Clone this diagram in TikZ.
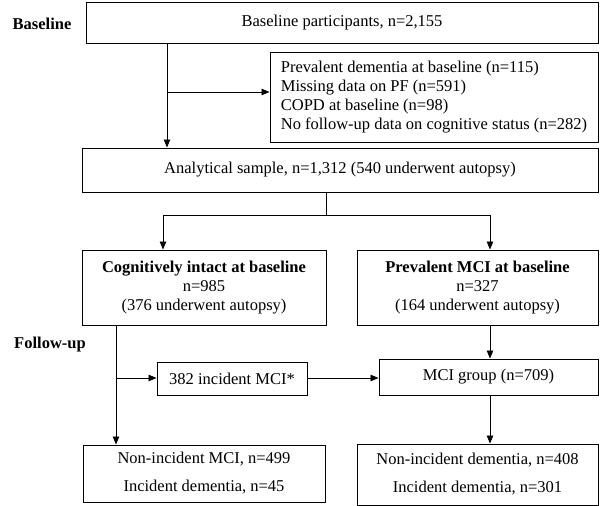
\documentclass[tikz,border=0pt]{standalone}
\usepackage{fontspec}
\setmainfont{Liberation Serif}
\usetikzlibrary{arrows.meta}
\begin{document}
\begin{tikzpicture}[x=1pt,y=-1pt,
  box/.style={draw,line width=1pt,inner sep=0pt,align=center,font=\fontsize{16.5}{19}\selectfont},
  lbl/.style={font=\fontsize{16.5}{19}\selectfont\bfseries},
  arr/.style={line width=0.9pt,-{Triangle[length=8pt,width=6.5pt]}},
  ln/.style={line width=0.9pt}]
\useasboundingbox (0,0) rectangle (600,506);
\node[lbl] (lb) at (42,24) {Baseline};
\node[lbl] (lf) at (50,345) {Follow-up};
\node[box,minimum width=512pt,minimum height=41pt] (b1) at (342,22.5) {Baseline participants, n=2,155};
\node[box,minimum width=328pt,minimum height=90pt,align=left] (ex) at (434,97) {Prevalent dementia at baseline (n=115)\\Missing data on PF (n=591)\\COPD at baseline (n=98)\\No follow-up data on cognitive status (n=282)};
\node[box,minimum width=516pt,minimum height=44pt] (an) at (340,170) {Analytical sample, n=1,312 (540 underwent autopsy)};
\node[box,minimum width=244pt,minimum height=75pt] (ci) at (204,287.5) {\textbf{Cognitively intact at baseline}\\n=985\\(376 underwent autopsy)};
\node[box,minimum width=241pt,minimum height=75pt] (pm) at (477.5,287.5) {\textbf{Prevalent MCI at baseline}\\n=327\\(164 underwent autopsy)};
\node[box,minimum width=150pt,minimum height=33pt] (im) at (232,378.5) {382 incident MCI*};
\node[box,minimum width=219pt,minimum height=36pt] (mg) at (488.5,377) {MCI group (n=709)};
\node[box,minimum width=242pt,minimum height=57pt,font=\fontsize{16.5}{28}\selectfont] (bl) at (204,473.5) {Non-incident MCI, n=499\\Incident dementia, n=45};
\node[box,minimum width=241pt,minimum height=61pt,font=\fontsize{16.5}{28}\selectfont] (br) at (477.5,474.5) {Non-incident dementia, n=408\\Incident dementia, n=301};
\coordinate (c1) at (167,92);
\coordinate (s0) at (326,215);
\coordinate (sl) at (163,215);
\coordinate (sr) at (490,215);
\coordinate (f1) at (116,378);
\draw[arr] (c1 |- b1.south) -- (c1 |- an.north);
\draw[arr] (c1) -- (c1 -| ex.west);
\draw[ln] (s0 |- an.south) -- (s0);
\draw[ln] (sl) -- (sr);
\draw[arr] (sl) -- (sl |- ci.north);
\draw[arr] (sr) -- (sr |- pm.north);
\draw[arr] (f1 |- ci.south) -- (f1 |- bl.north);
\draw[arr] (f1) -- (f1 -| im.west);
\draw[arr] (f1 -| im.east) -- (f1 -| mg.west);
\draw[arr] (sr |- pm.south) -- (sr |- mg.north);
\draw[arr] (sr |- mg.south) -- (sr |- br.north);
\end{tikzpicture}
\end{document}
